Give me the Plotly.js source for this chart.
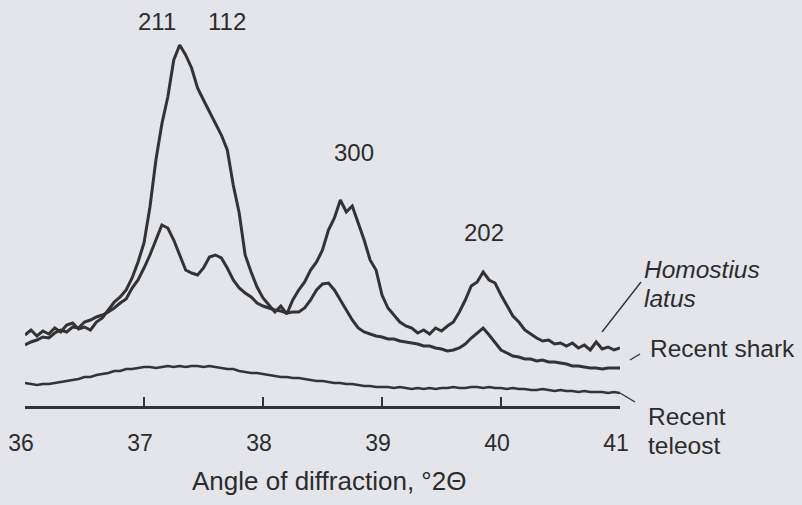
<!DOCTYPE html>
<html>
<head>
<meta charset="utf-8">
<script src="https://cdn.plot.ly/plotly-3.0.1.min.js"></script>
<style>
  html, body { margin: 0; padding: 0; background: #e4e5ea; }
  #chart { width: 802px; height: 505px; }
</style>
</head>
<body>
<div id="chart"></div>
<script>
// Angle of diffraction, °2Θ
const angle = [
  36.00,36.05,36.10,36.15,36.20,36.25,36.30,36.35,36.40,36.45,
  36.50,36.55,36.60,36.65,36.70,36.75,36.80,36.85,36.90,36.95,
  37.00,37.05,37.10,37.15,37.20,37.25,37.30,37.35,37.40,37.45,
  37.50,37.55,37.60,37.65,37.70,37.75,37.80,37.85,37.90,37.95,
  38.00,38.05,38.10,38.15,38.20,38.25,38.30,38.35,38.40,38.45,
  38.50,38.55,38.60,38.65,38.70,38.75,38.80,38.85,38.90,38.95,
  39.00,39.05,39.10,39.15,39.20,39.25,39.30,39.35,39.40,39.45,
  39.50,39.55,39.60,39.65,39.70,39.75,39.80,39.85,39.90,39.95,
  40.00,40.05,40.10,40.15,40.20,40.25,40.30,40.35,40.40,40.45,
  40.50,40.55,40.60,40.65,40.70,40.75,40.80,40.85,40.90,40.95,
  41.00
];

// Intensity (arbitrary units)
const homostius = [
  71,76,70,75,72,78,74,81,83,77,
  79,76,84,88,96,104,109,116,128,144,
  163,199,246,282,309,346,361,351,338,318,
  306,294,283,271,256,221,193,151,134,119,
  108,101,94,100,92,106,116,124,136,144,
  156,176,188,206,194,200,184,166,146,136,
  111,98,91,84,80,78,73,76,72,78,
  75,80,84,94,106,120,124,134,126,123,
  111,101,90,84,76,72,68,65,66,62,
  63,60,63,58,61,56,64,57,59,56,
  58
];
const shark = [
  61,64,66,69,68,73,76,74,79,78,
  84,86,89,91,94,98,103,107,118,126,
  138,151,166,181,178,166,151,136,133,131,
  138,149,151,148,138,126,118,113,109,103,
  100,98,96,95,93,94,94,98,106,116,
  122,123,116,106,96,86,78,74,72,70,
  69,67,67,65,64,63,62,60,60,58,
  57,55,56,58,62,68,73,78,71,64,
  56,53,50,49,47,47,45,46,44,44,
  43,42,40,40,39,38,38,37,38,38,
  38
];
const teleost = [
  23,22,21,22,22,23,24,25,26,27,
  29,29,31,32,33,35,35,37,37,38,
  39,39,38,39,40,39,40,39,40,40,
  39,40,39,38,37,37,35,34,33,33,
  32,31,30,29,29,28,28,27,26,25,
  25,24,23,23,22,22,21,20,20,19,
  19,19,18,19,18,17,18,17,18,17,
  18,18,19,18,18,19,19,18,19,18,
  18,17,18,17,17,16,16,17,16,15,
  16,15,15,14,15,14,14,14,13,14,
  13
];

const tickVals = [36, 37, 38, 39, 40, 41];
const tickText = ['36', '37', '38', '39', '40', '41'];

const peakLabels = ['211', '112', '300', '202'];
const peakX = [37.11, 37.70, 38.765, 39.857];
const peakY = [385, 385, 254, 174];

const seriesNames = ['Homostius latus', 'Recent shark', 'Recent teleost'];

const lineColor = '#333333';
const textColor = '#2c2c2c';
const font = 'Liberation Sans, Arial, sans-serif';

const traces = [
  {x: angle, y: homostius, name: seriesNames[0], mode: 'lines', line: {color: lineColor, width: 3}},
  {x: angle, y: shark, name: seriesNames[1], mode: 'lines', line: {color: lineColor, width: 3}},
  {x: angle, y: teleost, name: seriesNames[2], mode: 'lines', line: {color: lineColor, width: 2.5}}
];

// plot area: x 25..620 px, y 0..406 px
const px = v => (v - 25) / 595;
const py = v => (406 - v) / 406;

const annotations = peakLabels.map((t, i) => ({
  x: peakX[i], y: peakY[i], xref: 'x', yref: 'y', text: t, showarrow: false,
  font: {family: font, size: 24, color: textColor}, xanchor: 'center', yanchor: 'middle'
}));

const sideLabels = [
  {t: '<i>Homostius</i>', x: 642, y: 269},
  {t: '<i>latus</i>', x: 642, y: 298},
  {t: 'Recent shark', x: 648, y: 348},
  {t: 'Recent', x: 646, y: 416},
  {t: 'teleost', x: 646, y: 445}
];
sideLabels.forEach(s => annotations.push({
  x: px(s.x), y: py(s.y), xref: 'paper', yref: 'paper', text: s.t, showarrow: false,
  font: {family: font, size: 24.5, color: textColor}, xanchor: 'left', yanchor: 'middle'
}));
annotations.push({
  x: px(329), y: py(481), xref: 'paper', yref: 'paper', text: 'Angle of diffraction, °2Θ',
  showarrow: false, font: {family: font, size: 26, color: textColor}, xanchor: 'center', yanchor: 'middle'
});

const leaders = [
  [602, 332, 641, 282],
  [630, 360, 640, 354],
  [620, 393, 635, 402]
];
const shapes = leaders.map(l => ({
  type: 'line', xref: 'paper', yref: 'paper',
  x0: px(l[0]), y0: py(l[1]), x1: px(l[2]), y1: py(l[3]),
  line: {color: lineColor, width: 1.4}
}));

const layout = {
  width: 802, height: 505,
  margin: {l: 25, r: 182, t: 0, b: 99, pad: 0},
  paper_bgcolor: '#e4e5ea',
  plot_bgcolor: 'rgba(0,0,0,0)',
  showlegend: false,
  xaxis: {
    range: [36, 41], tickvals: tickVals, ticktext: tickText,
    ticks: 'inside', ticklen: 9, tickwidth: 2.5, tickcolor: lineColor,
    showline: true, linecolor: lineColor, linewidth: 3,
    showgrid: false, zeroline: false,
    tickfont: {family: font, size: 23, color: textColor},
    ticklabelstandoff: 14,
    ticklabelshift: -4
  },
  yaxis: {range: [0, 406], visible: false, showgrid: false, zeroline: false},
  annotations: annotations,
  shapes: shapes
};

Plotly.newPlot('chart', traces, layout, {displayModeBar: false, staticPlot: true});
</script>
</body>
</html>
